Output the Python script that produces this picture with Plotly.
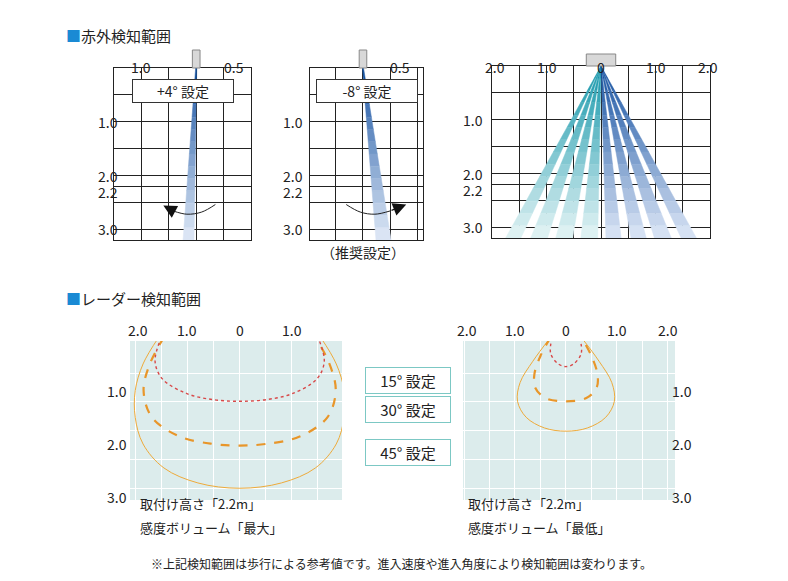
import plotly.graph_objects as go

W, H = 788, 581
FONT = "Noto Sans CJK JP"

# ---------------- data ----------------
ir_rows = [0.5, 1.0, 1.5, 2.0, 2.2, 2.5, 3.0]
ir_row_labels = ["1.0", "2.0", "2.2", "3.0", "3.2"]
ir_row_label_vals = [1.0, 2.0, 2.2, 3.0, 3.2]

beam_plus4 = [(-0.01, 0.01), (-0.24, -0.04)]   # (left,right) at top, at bottom y=3.2
beam_minus8 = [(-0.01, 0.01), (0.24, 0.52)]
fan_bottoms = [(-1.75, -1.47), (-1.29, -0.98), (-0.83, -0.52), (-0.37, -0.06),
               (0.09, 0.37), (0.55, 0.83), (0.98, 1.29), (1.47, 1.75)]

arc_plus4 = dict(x=[0.35, 0.1, -0.17, -0.42], y=[2.54, 2.68, 2.72, 2.66])
arc_minus8 = dict(x=[-0.31, -0.05, 0.22, 0.5], y=[2.54, 2.68, 2.72, 2.66])

# radar curves, left half (mirrored)
big45 = [(-1.55, 0.0), (-1.85, 0.5), (-2.0, 1.0), (-2.0, 1.5), (-1.85, 2.0), (-1.45, 2.45), (-0.8, 2.73), (0, 2.83)]
big30 = [(-1.45, 0.0), (-1.72, 0.5), (-1.84, 1.0), (-1.68, 1.5), (-1.15, 1.86), (-0.5, 2.0), (0, 2.03)]
big15 = [(-1.5, 0.0), (-1.62, 0.45), (-1.48, 0.78), (-1.0, 1.06), (-0.5, 1.17), (0, 1.2)]
small45 = [(-0.3, 0.0), (-0.65, 0.45), (-0.9, 0.85), (-0.95, 1.2), (-0.78, 1.5), (-0.42, 1.7), (0, 1.76)]
small30 = [(-0.3, 0.0), (-0.5, 0.35), (-0.62, 0.7), (-0.6, 0.95), (-0.4, 1.14), (0, 1.2)]
small15 = [(-0.27, 0.0), (-0.3, 0.3), (-0.15, 0.5), (0, 0.55)]

radar_labels = ["15° 設定", "30° 設定", "45° 設定"]
left_targets = [(1.55, 0.72), (1.6, 1.61), (1.68, 2.38)]
right_targets = [(-0.27, 0.47), (-0.67, 1.07), (-0.65, 1.62)]


def px_x(a, b):
    return [a / W, b / W]


def px_y(top, bot):
    return [1 - bot / H, 1 - top / H]


fig = go.Figure()

axes = {
    # name: (xdomain, ydomain, xrange, yrange)
    "1": (px_x(106, 243), px_y(60, 232), [-1.5, 1.0], [3.2, 0]),
    "2": (px_x(302, 415), px_y(60, 232), [-0.98, 1.11], [3.2, 0]),
    "3": (px_x(484, 702), px_y(58, 230), [-2.0, 2.0], [3.2, 0]),
    "4": (px_x(122, 334), px_y(333, 492), [-2.1, 1.96], [3.05, 0.07]),
    "5": (px_x(455, 667), px_y(333, 492), [-2.02, 2.14], [3.05, 0.07]),
}
for k, (xd, yd, xr, yr) in axes.items():
    radar = k in ("4", "5")
    xa = dict(domain=xd, range=xr, showticklabels=False, zeroline=False, ticks="",
              anchor="y" + k, fixedrange=True)
    ya = dict(domain=yd, range=yr, showticklabels=False, zeroline=False, ticks="",
              anchor="x" + k, fixedrange=True)
    if radar:
        xa.update(tickvals=[-2, -1.5, -1, -0.5, 0, 0.5, 1, 1.5, 2], gridcolor="white", gridwidth=1, showline=False)
        ya.update(tickvals=[0.67, 1.21, 1.75, 2.29, 2.83], gridcolor="white", gridwidth=1, showline=False)
    else:
        xa.update(tickvals=[-2, -1.5, -1, -0.5, 0, 0.5, 1, 1.5, 2], gridcolor="#222", gridwidth=1,
                  showline=True, linecolor="#222", mirror=True)
        ya.update(tickvals=ir_rows, gridcolor="#222", gridwidth=1,
                  showline=True, linecolor="#222", mirror=True)
    fig.layout["xaxis" + ("" if k == "1" else k)] = xa
    fig.layout["yaxis" + ("" if k == "1" else k)] = ya


def ref(k):
    return ("x", "y") if k == "1" else ("x" + k, "y" + k)


def mix(c1, c2, t):
    return "rgb(%d,%d,%d)" % tuple(round(a + (b - a) * t) for a, b in zip(c1, c2))


def beam(k, top, bottom, c_dark, c_pale, ybot=3.2, n=14):
    xr, yr = ref(k)
    for i in range(n):
        t0, t1 = i / n, (i + 1) / n
        l0 = top[0] + (bottom[0] - top[0]) * t0
        r0 = top[1] + (bottom[1] - top[1]) * t0
        l1 = top[0] + (bottom[0] - top[0]) * t1
        r1 = top[1] + (bottom[1] - top[1]) * t1
        col = mix(c_dark, c_pale, (t0 + t1) / 2)
        fig.add_trace(go.Scatter(x=[l0, r0, r1, l1, l0], y=[ybot * t0, ybot * t0, ybot * t1, ybot * t1, ybot * t0],
                                 fill="toself", fillcolor=col, line=dict(color=col, width=0.5),
                                 mode="lines", hoverinfo="skip", xaxis=xr, yaxis=yr))


BLUE_D, BLUE_P = (20, 80, 160), (225, 234, 247)
TEAL_D, TEAL_P = (20, 150, 170), (228, 244, 245)
beam("1", beam_plus4[0], beam_plus4[1], BLUE_D, BLUE_P)
beam("2", beam_minus8[0], beam_minus8[1], BLUE_D, BLUE_P)
for i, b in enumerate(fan_bottoms):
    if i < 4:
        beam("3", (0, 0), b, TEAL_D, TEAL_P)
    else:
        beam("3", (0, 0), b, BLUE_D, (220, 230, 246))

# arcs with arrowheads
for k, arc in (("1", arc_plus4), ("2", arc_minus8)):
    xr, yr = ref(k)
    fig.add_trace(go.Scatter(x=arc["x"], y=arc["y"], mode="lines", line=dict(color="#222", width=1, shape="spline"),
                             hoverinfo="skip", xaxis=xr, yaxis=yr))
fig.add_annotation(x=-0.6, y=2.56, ax=-0.4, ay=2.67, xref="x", yref="y", axref="x", ayref="y",
                   showarrow=True, arrowhead=2, arrowsize=2.2, arrowwidth=1.2, arrowcolor="#111", text="")
fig.add_annotation(x=0.8, y=2.54, ax=0.5, ay=2.66, xref="x2", yref="y2", axref="x2", ayref="y2",
                   showarrow=True, arrowhead=2, arrowsize=2.2, arrowwidth=1.2, arrowcolor="#111", text="")

# radar curves
def curve(k, pts, color, width, dash):
    xr, yr = ref(k)
    xs = [p[0] for p in pts] + [-p[0] for p in reversed(pts[:-1])]
    ys = [p[1] for p in pts] + [p[1] for p in reversed(pts[:-1])]
    fig.add_trace(go.Scatter(x=xs, y=ys, mode="lines", line=dict(color=color, width=width, dash=dash, shape="spline"),
                             hoverinfo="skip", xaxis=xr, yaxis=yr))


curve("4", big45, "#eeaa3a", 1, "solid")
curve("4", big30, "#e8962a", 2.2, "dash")
curve("4", big15, "#d84848", 1.4, "dot")
curve("5", small45, "#eeaa3a", 1, "solid")
curve("5", small30, "#e8962a", 2.2, "dash")
curve("5", small15, "#d84848", 1.4, "dot")

# radar panel backgrounds
for k in ("4", "5"):
    xr, yr = ref(k)
    fig.add_shape(type="rect", xref=xr + " domain", yref=yr + " domain", x0=0, x1=1, y0=0, y1=1,
                  fillcolor="#dcecec", line_width=0, layer="below")

# sensors
fig.add_shape(type="rect", xref="x", yref="paper", x0=-0.07, x1=0.07, y0=1 - 60 / H, y1=1 - 42 / H,
              fillcolor="#d8d8d8", line=dict(color="#888", width=1))
fig.add_shape(type="rect", xref="x2", yref="paper", x0=-0.07, x1=0.07, y0=1 - 60 / H, y1=1 - 42 / H,
              fillcolor="#d8d8d8", line=dict(color="#888", width=1))
fig.add_shape(type="rect", xref="x3", yref="paper", x0=-0.27, x1=0.27, y0=1 - 58 / H, y1=1 - 46 / H,
              fillcolor="#d8d8d8", line=dict(color="#888", width=1))

txt = dict(family=FONT, size=14, color="#222")
# top labels
for xr, xs, labs in (("x", [-1.0, 0.47], ["1.0", "0.5"]), ("x2", [-1.0, 0.47], ["1.0", "0.5"]),
                     ("x3", [-1.95, -1.0, 0, 1.0, 1.97], ["2.0", "1.0", "0", "1.0", "2.0"])):
    for xv, lab in zip(xs, labs):
        fig.add_annotation(x=xv, y=1 - 47 / H, xref=xr, yref="paper", text=lab, showarrow=False,
                           font=txt, xanchor="center" if lab != "0.5" else "left")
for xr, xs in (("x4", [-1.95, -1.0, 0, 1.0, 2.0]), ("x5", [-1.95, -1.0, 0, 1.0, 2.0])):
    for xv, lab in zip(xs, ["2.0", "1.0", "0", "1.0", "2.0"]):
        fig.add_annotation(x=xv, y=1 - 322 / H, xref=xr, yref="paper", text=lab, showarrow=False, font=txt)

# left row labels
for xpx, yr in ((88, "y"), (285, "y2"), (465, "y3")):
    for yv, lab in zip(ir_row_label_vals, ir_row_labels):
        off = 0.1 if lab in ("2.2", "3.2") else 0.0
        fig.add_annotation(x=xpx / W, y=yv + off, xref="paper", yref=yr, text=lab, showarrow=False, font=txt)
for xpx, yr in ((97, "y4"), (686, "y5")):
    for yv, lab in zip([1.0, 2.0, 3.0], ["1.0", "2.0", "3.0"]):
        fig.add_annotation(x=xpx / W, y=yv, xref="paper", yref=yr, text=lab, showarrow=False, font=txt)

# pill labels
for xr, yr, lab in (("x", "y", "+4° 設定"), ("x2", "y2", "-8° 設定")):
    fig.add_annotation(x=0.5, y=0.42, xref=xr + " domain", yref=yr, text=lab, showarrow=False,
                       font=dict(family=FONT, size=14, color="#222"), bgcolor="white",
                       bordercolor="#333", borderwidth=1, width=98, borderpad=1)
fig.add_annotation(x=355 / W, y=1 - 244 / H, xref="paper", yref="paper", text="（推奨設定）",
                   showarrow=False, font=txt)


def to_dom(k, xpx, ypx):
    xd, yd = axes[k][0], axes[k][1]
    return ((xpx / W - xd[0]) / (xd[1] - xd[0]), (1 - ypx / H - yd[0]) / (yd[1] - yd[0]))


# radar callouts
for i, lab in enumerate(radar_labels):
    ypx = 372 + i * 43
    fig.add_annotation(x=400 / W, y=1 - ypx / H, xref="paper", yref="paper", text=lab, showarrow=False,
                       font=dict(family=FONT, size=15, color="#222"), bgcolor="white",
                       bordercolor="#7cc8c4", borderwidth=1, width=80, borderpad=2)
    lt = left_targets[i]
    axd, ayd = to_dom("4", 355, ypx)
    fig.add_annotation(x=lt[0], y=lt[1], xref="x4", yref="y4", ax=axd, ay=ayd,
                       axref="x4 domain", ayref="y4 domain", showarrow=True, arrowhead=2, arrowsize=1.6,
                       arrowwidth=1, arrowcolor="#6cc4c0", text="")
    rt = right_targets[i]
    axd, ayd = to_dom("5", 446, ypx)
    fig.add_annotation(x=rt[0], y=rt[1], xref="x5", yref="y5", ax=axd, ay=ayd,
                       axref="x5 domain", ayref="y5 domain", showarrow=True, arrowhead=2, arrowsize=1.6,
                       arrowwidth=1, arrowcolor="#6cc4c0", text="")

# section titles
for ypx, t in ((15, "赤外検知範囲"), (290, "レーダー検知範囲")):
    fig.add_annotation(x=56 / W, y=1 - ypx / H, xref="paper", yref="paper", xanchor="left", showarrow=False,
                       text="<span style='color:#1a8ad4'>■</span>" + t,
                       font=dict(family=FONT, size=15, color="#222"))

for xpx, big in ((130, "最大"), (458, "最低")):
    fig.add_annotation(x=xpx / W, y=1 - 507 / H, xref="paper", yref="paper", xanchor="left", showarrow=False,
                       text="取付け高さ「2.2m」", font=dict(family=FONT, size=13, color="#222"))
    fig.add_annotation(x=xpx / W, y=1 - 531 / H, xref="paper", yref="paper", xanchor="left", showarrow=False,
                       text="感度ボリューム「" + big + "」", font=dict(family=FONT, size=13, color="#222"))
fig.add_annotation(x=393 / W, y=1 - 566 / H, xref="paper", yref="paper", showarrow=False,
                   text="※上記検知範囲は歩行による参考値です。進入速度や進入角度により検知範囲は変わります。",
                   font=dict(family=FONT, size=12, color="#222"))

fig.update_layout(width=W, height=H, margin=dict(l=0, r=0, t=0, b=0), showlegend=False,
                  paper_bgcolor="white", plot_bgcolor="white", font=dict(family=FONT))
fig.write_html("out.html")
